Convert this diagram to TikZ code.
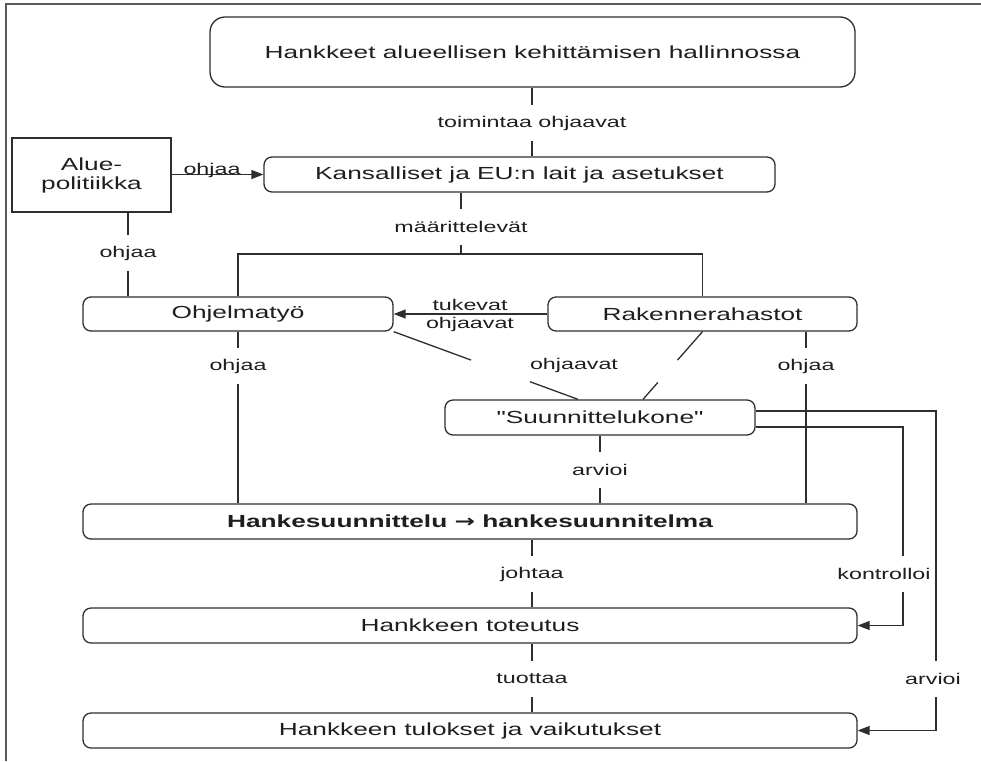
\documentclass[tikz,border=0pt]{standalone}
\usepackage{fontspec}
\setmainfont{Liberation Sans}[FakeStretch=1.5]
\newfontfamily\plainquote{Liberation Sans}[FakeStretch=1.5]
\newfontfamily\arrowfont{DejaVu Sans}[FakeStretch=1.4]
\usetikzlibrary{arrows.meta,calc}
\definecolor{ink}{HTML}{1E1E1E}
\definecolor{edge}{HTML}{2E2E2E}

\begin{document}
\begin{tikzpicture}[x=1pt,y=-1pt,
  box/.style={draw=edge,line width=1.3pt,rounded corners=8pt,minimum height=35pt,
    inner sep=0pt,text=ink,font=\fontsize{17.5}{21}\selectfont,align=center},
  conn/.style={draw=edge,line width=1.3pt},
  arr/.style={conn,-{Triangle[length=12pt,width=9pt]}},
  gaplabel/.style={fill=white,inner xsep=2pt,inner ysep=0pt,minimum height=36pt,
    text=ink,font=\fontsize{15.5}{18}\selectfont},
  lbl/.style={inner sep=0pt,text=ink,font=\fontsize{15.5}{18}\selectfont}
]
\useasboundingbox (0,0) rectangle (981,761);

% page frame (top and left edges only)
\draw[draw=edge!80,line width=1.3pt] (981,4) -- (6,4) -- (6,761);

% boxes
\node[box,rounded corners=15pt,minimum width=645pt,minimum height=70pt] (top) at (532.5,52)
  {Hankkeet alueellisen kehittämisen hallinnossa};
\node[box,minimum width=511pt] (kans) at (519.5,174.5) {Kansalliset ja EU:n lait ja asetukset};
\node[box,rounded corners=0pt,minimum width=159pt,minimum height=74pt] (alue) at (91.5,175)
  {Alue-\\[-2pt]politiikka};
\node[box,minimum width=310pt,minimum height=34pt] (ohj) at (238,314) {Ohjelmatyö};
\node[box,minimum width=309pt,minimum height=34pt] (rak) at (702.5,314) {Rakennerahastot};
\node[box,minimum width=310pt] (suun) at (600,417.5) {{\plainquote"Suunnittelukone"}};
\node[box,minimum width=774pt,font=\fontsize{17.5}{21}\selectfont\bfseries] (hs) at (470,521.5)
  {Hankesuunnittelu {\arrowfont\bfseries →} hankesuunnitelma};
\node[box,minimum width=774pt] (tot) at (470,625.5) {Hankkeen toteutus};
\node[box,minimum width=774pt] (tul) at (470,730.5) {Hankkeen tulokset ja vaikutukset};

% junction points
\coordinate (defjoin) at (461,254);
\coordinate (ctrlx) at (903,0);
\coordinate (evalx) at (936,0);
\coordinate (alx) at (128,0);
\coordinate (rkx) at (806,0);
\coordinate (hsx) at (532,0);
\coordinate (sA) at ([xshift=-22pt]suun.north);
\coordinate (sB) at ([xshift=43pt]suun.north);

% connectors
\draw[conn] (top.south -| hsx) -- (kans.north -| hsx);
\draw[arr] (alue.east |- kans.west) -- (kans.west);
\draw[conn] (alue.south -| alx) -- (ohj.north -| alx);
\draw[conn] (kans.south -| defjoin) -- (defjoin);
\draw[conn] (ohj.north) |- (rak.north |- defjoin) -- (rak.north);
\draw[arr] (rak.west) -- (ohj.east);

\draw[conn] (ohj.south east) -- ($(ohj.south east)!0.42!(sA)$);
\draw[conn] ($(ohj.south east)!0.74!(sA)$) -- (sA);
\draw[conn] (rak.south) -- ($(rak.south)!0.42!(sB)$);
\draw[conn] ($(rak.south)!0.75!(sB)$) -- (sB);

\draw[conn] (ohj.south) -- (ohj.south |- hs.north);
\draw[conn] (rak.south -| rkx) -- (hs.north -| rkx);
\draw[conn] (suun.south) -- (suun.south |- hs.north);
\draw[conn] (hs.south -| hsx) -- (tot.north -| hsx);
\draw[conn] (tot.south -| hsx) -- (tul.north -| hsx);

\draw[arr] ([yshift=-9.5pt]suun.east) -| (ctrlx |- tot.east) -- (tot.east);
\draw[arr] ([yshift=6.5pt]suun.east) -| (evalx |- tul.east) -- (tul.east);

% connector labels
\node[gaplabel] (l1) at (532,123) {toimintaa ohjaavat};
\node[lbl,anchor=base] (l2) at (212,174) {ohjaa};
\node[gaplabel] (l3) at (128,253) {ohjaa};
\node[gaplabel] (l4) at (461,227) {määrittelevät};
\node[lbl,anchor=base] (l5a) at (470,310.5) {tukevat};
\node[lbl,anchor=base] (l5b) at (470,328) {ohjaavat};
\node[lbl] (l6) at (574,365) {ohjaavat};
\node[gaplabel] (l7) at (238,366) {ohjaa};
\node[gaplabel] (l8) at (806,366) {ohjaa};
\node[gaplabel] (l9) at (600,470) {arvioi};
\node[gaplabel] (l10) at (532,574) {johtaa};
\node[gaplabel] (l11) at (532,679) {tuottaa};
\node[gaplabel] (l12) at (884,574) {kontrolloi};
\node[gaplabel] (l13) at (933,679) {arvioi};
\end{tikzpicture}
\end{document}
